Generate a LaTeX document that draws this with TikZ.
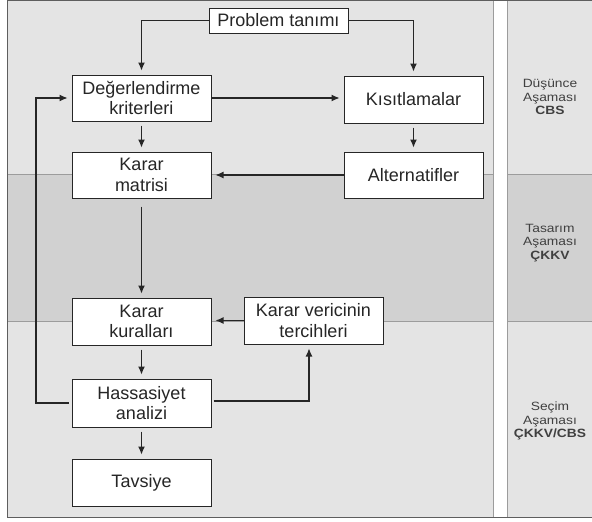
\documentclass[tikz,border=0pt]{standalone}
\usepackage{fontspec}
\setmainfont{Liberation Sans}
\newfontfamily\sidefont[FakeStretch=1.15]{Liberation Sans}
\usetikzlibrary{arrows.meta}
\definecolor{lightbg}{HTML}{E4E4E4}
\definecolor{darkbg}{HTML}{D1D1D1}
\definecolor{sepline}{HTML}{9C9C9C}
\definecolor{frameline}{HTML}{5E5E5E}
\definecolor{inkc}{HTML}{262626}
\definecolor{sidetext}{HTML}{404040}
\begin{document}
\begin{tikzpicture}[x=1pt,y=-1pt,
  box/.style={draw=inkc,line width=1pt,fill=white,inner sep=0pt,
    minimum width=139pt,minimum height=46pt,align=center,
    text=inkc,font=\fontsize{18}{20.5}\selectfont},
  conn/.style={draw=inkc,line width=1.1pt,-{Latex[length=8pt,width=7pt]},shorten >=4pt},
  sidelabel/.style={align=center,text=sidetext,font=\sidefont\fontsize{12}{13.8}\selectfont}]
\useasboundingbox (0,0) rectangle (592,522);
% background panels
\fill[lightbg] (7,0.5) rectangle (493,517.5);
\fill[lightbg] (507,0.5) rectangle (592,517.5);
\fill[darkbg] (7,174) rectangle (493,321);
\fill[darkbg] (507,174) rectangle (592,321);
\draw[sepline,line width=0.8pt] (7,174) -- (493,174) (507,174) -- (592,174)
  (7,321) -- (493,321) (507,321) -- (592,321);
\draw[sepline,line width=1pt] (493,0.5) -- (493,517.5) (507,0.5) -- (507,517.5);
\draw[frameline,line width=1.2pt] (7,0.6) -- (592,0.6) (7,517.4) -- (592,517.4)
  (7.5,0) -- (7.5,518);
% side labels
\node[sidelabel] (s1) at (550,97) {Düşünce\\Aşaması\\\textbf{CBS}};
\node[sidelabel] (s2) at (550,243) {Tasarım\\Aşaması\\\textbf{ÇKKV}};
\node[sidelabel] (s3) at (550,421) {Seçim\\Aşaması\\\textbf{ÇKKV/CBS}};
% boxes
\node[box,minimum height=25pt] (prob) at (278.5,20.5) {Problem tanımı};
\node[box] (deg) at (141.5,98) {Değerlendirme\\kriterleri};
\node[box,minimum height=47pt] (kis) at (413.5,99.5) {Kısıtlamalar};
\node[box] (mat) at (141.5,175) {Karar\\matrisi};
\node[box] (alt) at (413.5,175) {Alternatifler};
\node[box,minimum height=47pt] (kur) at (141.5,321.5) {Karar\\kuralları};
\node[box,minimum height=47pt] (ter) at (313.5,320.5) {Karar vericinin\\tercihleri};
\node[box,minimum height=48pt] (has) at (141.5,403) {Hassasiyet\\analizi};
\node[box,minimum height=47pt] (tav) at (141.5,482.5) {Tavsiye};
\coordinate (fb) at (36,403);
% connectors
\draw[conn] (prob.west) -| (deg.north);
\draw[conn] (prob.east) -| (kis.north);
\draw[conn] (deg.east) -- (deg.east -| kis.west);
\draw[conn,shorten <=4pt] (deg.south) -- (mat.north);
\draw[conn,shorten <=4pt] (kis.south) -- (alt.north);
\draw[conn] (alt.west) -- (alt.west -| mat.east);
\draw[conn,shorten <=8pt] (mat.south) -- (kur.north);
\draw[conn] (ter.west) -- (ter.west -| kur.east);
\draw[conn,shorten <=4pt] (kur.south) -- (has.north);
\draw[conn,shorten <=4pt] (has.south) -- (tav.north);
\draw[conn,shorten <=3pt] (has.west) -- (fb) |- (deg.west);
\draw[conn,shorten <=2pt] ([yshift=2pt]has.east) -| ([xshift=-4.5pt]ter.south);
\end{tikzpicture}
\end{document}
